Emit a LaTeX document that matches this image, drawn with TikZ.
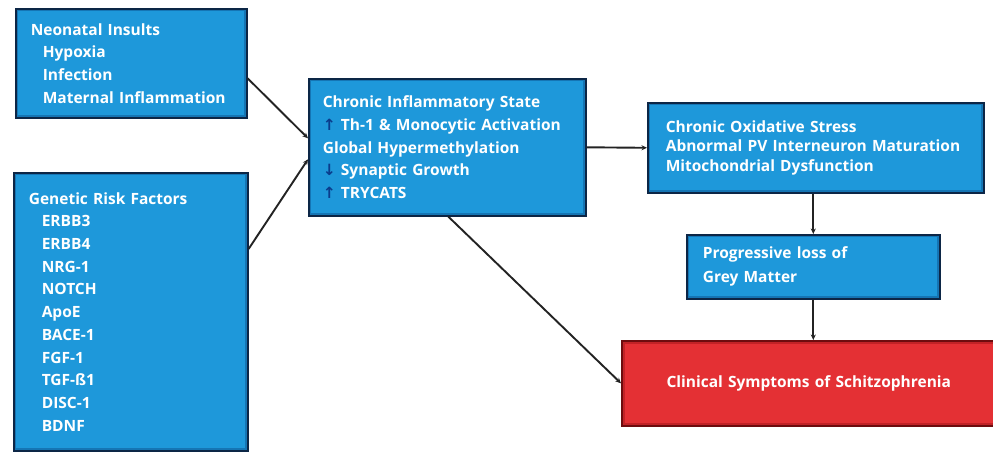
\documentclass[tikz,border=0pt]{standalone}
\usepackage{fontspec}
\setmainfont{Open Sans}
\newfontfamily\symfont{DejaVu Sans}
\usetikzlibrary{arrows.meta}
\definecolor{boxblue}{RGB}{30,152,218}
\definecolor{blueedge}{RGB}{12,38,70}
\definecolor{blueglow}{RGB}{14,90,150}
\definecolor{boxred}{RGB}{228,48,52}
\definecolor{rededge}{RGB}{110,12,14}
\definecolor{redglow}{RGB}{170,25,30}
\definecolor{uparrow}{RGB}{10,60,140}
\definecolor{conn}{RGB}{35,35,35}
\tikzset{
  bluebox/.style={rectangle, anchor=north west, fill=boxblue, draw=blueedge, line width=1.6pt,
    inner xsep=15pt, inner ysep=0pt, align=left, text=white,
    font=\fontsize{15.5}{22.7}\selectfont\bfseries,
    path picture={\draw[blueglow, line width=5pt, opacity=0.55]
      (path picture bounding box.south west) rectangle (path picture bounding box.north east);}},
  redbox/.style={rectangle, anchor=north west, fill=boxred, draw=rededge, line width=1.6pt,
    inner sep=0pt, align=center, text=white,
    font=\fontsize{15.5}{22}\selectfont\bfseries,
    path picture={\draw[redglow, line width=6pt, opacity=0.6]
      (path picture bounding box.south west) rectangle (path picture bounding box.north east);}},
  conarrow/.style={draw=conn, line width=1.9pt, -{Stealth[length=5.5pt,width=5pt]}},
}
\newcommand{\ua}{{\symfont\color{uparrow}\char"2191}}
\newcommand{\da}{{\symfont\color{uparrow}\char"2193}}
\begin{document}
\begin{tikzpicture}[x=1pt,y=-1pt]
\useasboundingbox (0,0) rectangle (993,452);
\fill[white] (0,0) rectangle (993,452);
% boxes
\node[bluebox, text width=201pt, minimum height=109pt] (nb) at (15,8)
  {Neonatal Insults\\
   \hspace*{12pt}Hypoxia\\
   \hspace*{12pt}Infection\\
   \hspace*{12pt}Maternal Inflammation};
\node[bluebox, text width=204pt, minimum height=278pt] (gb) at (13,172)
  {Genetic Risk Factors\\
   \hspace*{13pt}ERBB3\\
   \hspace*{13pt}ERBB4\\
   \hspace*{13pt}NRG-1\\
   \hspace*{13pt}NOTCH\\
   \hspace*{13pt}ApoE\\
   \hspace*{13pt}BACE-1\\
   \hspace*{13pt}FGF-1\\
   \hspace*{13pt}TGF-ß1\\
   \hspace*{13pt}DISC-1\\
   \hspace*{13pt}BDNF};
\node[bluebox, inner xsep=14pt, text width=249pt, minimum height=137pt] (cb) at (308,78)
  {Chronic Inflammatory State\\
   \ua\ Th-1 \& Monocytic Activation\\
   Global Hypermethylation\\
   \da\ Synaptic Growth\\
   \ua\ TRYCATS};
\node[bluebox, inner xsep=18pt, font=\fontsize{15.5}{19.5}\selectfont\bfseries,
      text width=300pt, minimum height=90pt] (ob) at (647,102)
  {Chronic Oxidative Stress\\
   Abnormal PV Interneuron Maturation\\
   Mitochondrial Dysfunction};
\node[bluebox, inner xsep=16pt, font=\fontsize{15.5}{24}\selectfont\bfseries,
      text width=221pt, minimum height=64pt] (pb) at (686,234)
  {Progressive loss of\\
   Grey Matter};
\node[redbox, text width=378pt, minimum height=85pt] (rb) at (621,340)
  {\hspace*{-4pt}Clinical Symptoms of Schitzophrenia};
% connectors
\draw[conarrow] ([yshift=-15pt]nb.east) -- ([yshift=9pt]cb.west);
\draw[conarrow] ([yshift=-77pt]gb.north east) -- ([yshift=-12pt]cb.west);
\draw[conarrow] (cb.east) -- (ob.west);
\draw[conarrow] (pb.north |- ob.south) -- (pb.north);
\draw[conarrow] (pb.south) -- (pb.south |- rb.north);
\draw[conarrow] ([xshift=1pt]cb.south) -- (rb.west);
\end{tikzpicture}
\end{document}
